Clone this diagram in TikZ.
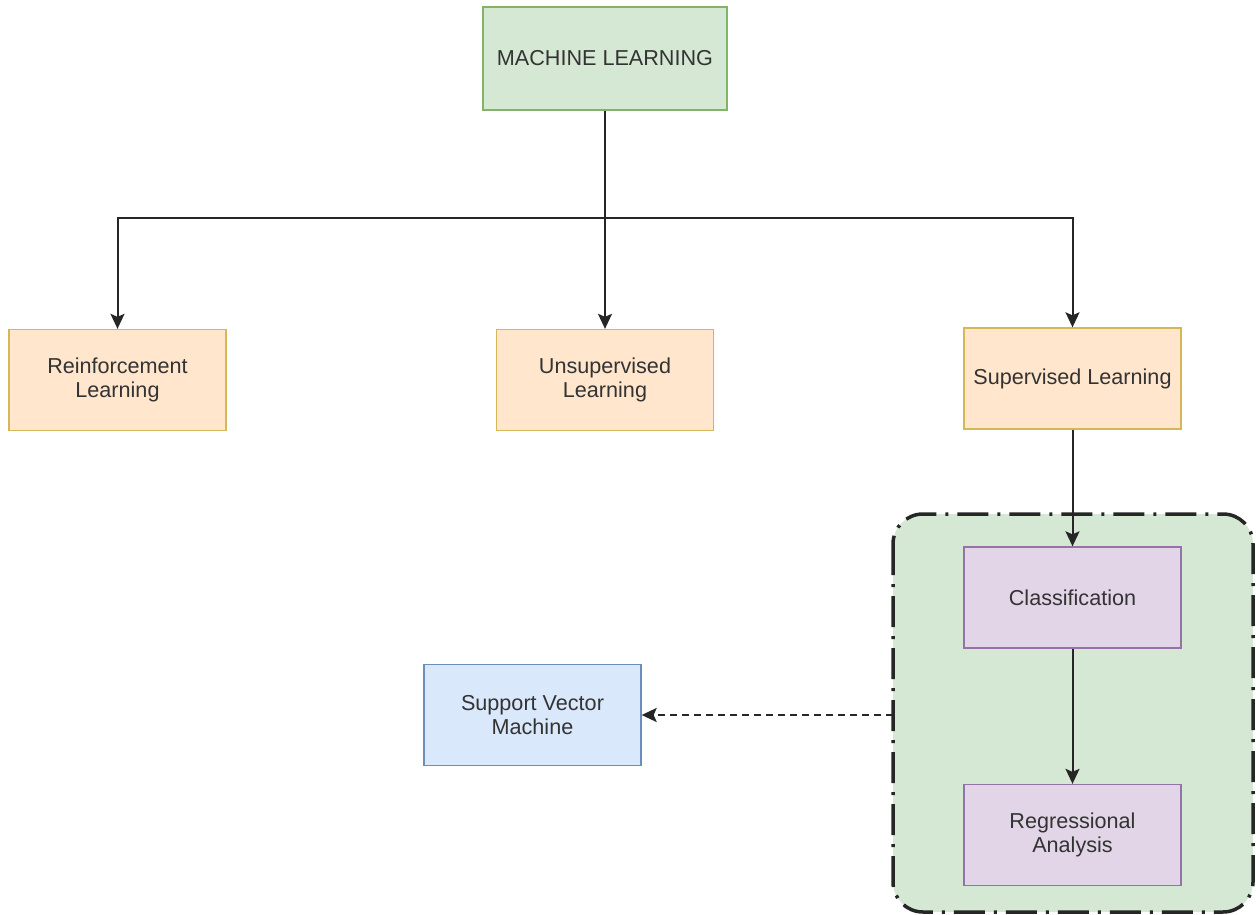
\documentclass[tikz,border=0pt]{standalone}
\usepackage{fontspec}
\setmainfont{Liberation Sans}
\usetikzlibrary{arrows.meta}
\definecolor{mlfill}{HTML}{D5E8D4}
\definecolor{mlline}{HTML}{82B366}
\definecolor{orfill}{HTML}{FFE6CC}
\definecolor{orline}{HTML}{D6B656}
\definecolor{pufill}{HTML}{E1D5E7}
\definecolor{puline}{HTML}{9673A6}
\definecolor{blfill}{HTML}{DAE8FC}
\definecolor{blline}{HTML}{6C8EBF}
\definecolor{txt}{HTML}{333333}
\tikzset{
  box/.style={draw, line width=1.3pt, minimum width=217pt, minimum height=101pt,
    align=center, text=txt, font=\fontsize{21.6}{24}\selectfont, inner sep=0pt},
  greenbox/.style={box, fill=mlfill, draw=mlline},
  orangebox/.style={box, fill=orfill, draw=orline},
  purplebox/.style={box, fill=pufill, draw=puline},
  bluebox/.style={box, fill=blfill, draw=blline},
  conn/.style={line width=2pt, draw=black!85, -{Stealth[length=15pt, width=14pt, inset=3pt]}},
  dconn/.style={conn, dash pattern=on 7pt off 5pt},
  group/.style={draw=black!85, fill=mlfill, line width=3.5pt, rounded corners=30pt,
    dash pattern=on 31pt off 9pt on 3pt off 9pt}
}
\begin{document}
\begin{tikzpicture}[x=1pt, y=-1pt]
  \useasboundingbox (0,0) rectangle (1256,915);

  % grouping frame around the supervised methods
  \draw[group] (893,514) rectangle (1253,912);

  % nodes
  \node[greenbox, minimum width=244pt, minimum height=103pt] (ml) at (605,58.5) {MACHINE LEARNING};
  \node[orangebox] (rl) at (117.5,380) {Reinforcement\\Learning};
  \node[orangebox] (ul) at (605,380) {Unsupervised\\Learning};
  \node[orangebox] (sl) at (1072.5,378.5) {Supervised Learning};
  \node[purplebox] (cl) at (1072.5,597.5) {Classification};
  \node[purplebox] (ra) at (1072.5,835) {Regressional\\Analysis};
  \node[bluebox] (svm) at (532.5,715) {Support Vector\\Machine};

  \coordinate (split) at (605,218);
  \coordinate (gl) at (893,715);

  % connectors
  \draw[conn] (ml.south) -- (ul.north);
  \draw[conn] (split) -| (rl.north);
  \draw[conn] (split) -| (sl.north);
  \draw[conn] (sl.south) -- (cl.north);
  \draw[conn] (cl.south) -- (ra.north);
  \draw[dconn] (gl) -- (svm.east);
\end{tikzpicture}
\end{document}
